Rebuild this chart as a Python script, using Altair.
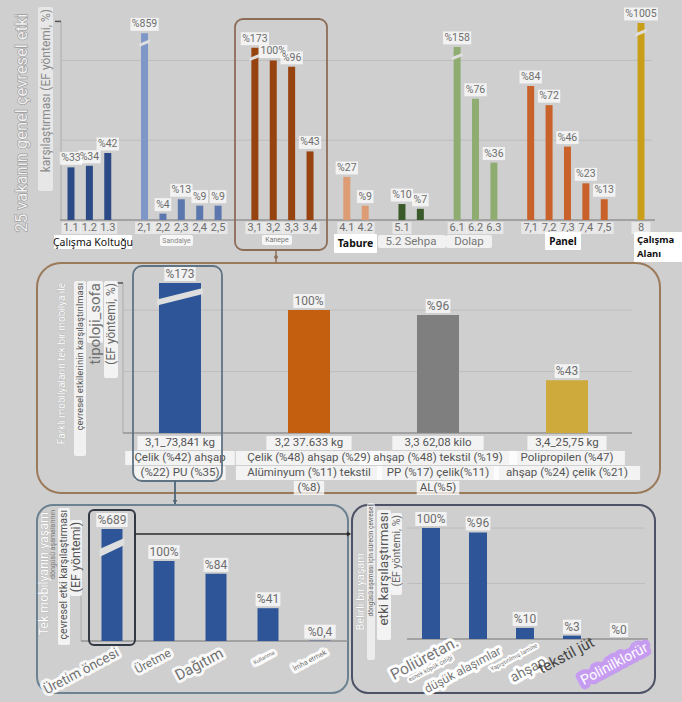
import altair as alt
import pandas as pd

# ======================= DATA =======================
top_ids = ["1.1", "1.2", "1.3", "2,1", "2,2", "2,3", "2,4", "2,5", "3,1", "3,2", "3,3", "3,4",
           "4.1", "4.2", "5.1", "5.2", "6.1", "6.2", "6.3", "7,1", "7,2", "7,3", "7,4", "7,5", "8"]
top_groups = (["Çalışma Koltuğu"] * 3 + ["Sandalye"] * 5 + ["Kanepe"] * 4 + ["Tabure"] * 2
              + ["Sehpa"] * 2 + ["Dolap"] * 3 + ["Panel"] * 5 + ["Çalışma Alanı"])
top_values = [33, 34, 42, 859, 4, 13, 9, 9, 173, 100, 96, 43, 27, 9, 10, 7, 158, 76, 36, 84, 72, 46, 23, 13, 1005]
# drawn height of each bar (broken bars are cut off in the picture)
top_drawn = [33, 34, 42, 117, 4, 13, 9, 9, 108, 100, 96, 43, 27, 9, 10, 7, 108.5, 76, 36, 84, 72, 46, 23, 13, 123.5]
top_value_labels = ["%33", "%34", "%42", "%859", "%4", "%13", "%9", "%9", "%173", "100%", "%96", "%43",
                    "%27", "%9", "%10", "%7", "%158", "%76", "%36", "%84", "%72", "%46", "%23", "%13", "%1005"]
top_title = ["25 vakanın genel çevresel etki", "karşılaştırması (EF yöntemi, %)"]

sofa_ids = ["3,1", "3,2", "3,3", "3,4"]
sofa_values = [173, 100, 96, 43]
sofa_drawn = [122, 100, 96, 43]
sofa_value_labels = ["%173", "100%", "%96", "%43"]
sofa_desc = [
    ["3,1_73,841 kg", "Çelik (%42) ahşap", "(%22) PU (%35)"],
    ["3,2 37.633 kg", "Çelik (%48) ahşap (%29)", "Alüminyum (%11) tekstil", "(%8)"],
    ["3,3 62,08 kilo", "ahşap (%48) tekstil (%19)", "PP (%17) çelik(%11)", "AL(%5)"],
    ["3,4_25,75 kg", "Polipropilen (%47)", "ahşap (%24) çelik (%21)"],
]
mid_title = ["Farklı mobilyaların tek bir mobilya ile", "çevresel etkilerinin karşılaştırılması",
             "tipoloji_sofa", "(EF yöntemi, %)"]

stage_names = ["Üretim öncesi", "Üretme", "Dağıtım", "Kullanma", "İmha etmek"]
stage_values = [689, 100, 84, 41, 0.4]
stage_drawn = [140, 100, 84, 41, 0.4]
stage_value_labels = ["%689", "100%", "%84", "%41", "%0,4"]
bl_title = ["Tek mobilyanın yaşam", "döngüsü aşamalarının", "çevresel etki karşılaştırması", "(EF yöntemi)"]

proc_names = ["Poliüretan esnek köpük", "Çelik düşük alaşımlar", "Yapıştırılmış lamine ahşap",
              "Tekstil jüt", "Polinilklorür"]
proc_values = [100, 96, 10, 3, 0]
proc_value_labels = ["100%", "%96", "%10", "%3", "%0"]
proc_tick_pieces = ["Poliüretan.", "esnek köpük çeliği", "düşük alaşımlar", "Yapıştırılmış lamine",
                    "ahşap", "tekstil jüt", "Polinilklorür"]
br_title = ["Belirli bir yaşam", "döngüsü aşaması için sürecin çevresel", "etki karşılaştırması", "(EF yöntemi, %)"]

# ======================= STYLE =======================
BG = "#cfcfcf"
GAP = "#dedede"
GRID = "#bebebe"
BASE = "#939393"
LAB = "#6e6e6e"
FONT = "Roboto"
OUTLINE = "#9a9a9a"
group_colors = {"Çalışma Koltuğu": "#2c4a86", "Sandalye": "#5b77ad", "Kanepe": "#96430f",
                "Tabure": "#dd9c74", "Sehpa": "#3b5a2b", "Dolap": "#8fad71", "Panel": "#c8622a",
                "Çalışma Alanı": "#c99f19"}
special_colors = {"2,1": "#7e97c7"}
sofa_colors = ["#2d5597", "#c45f10", "#7f7f7f", "#cdaa3b"]
BLUE = "#2d5597"

one = pd.DataFrame({"k": [0]})


def box_path(w, h):
    a, b = w / 20.0, h / 20.0
    return f"M{-a:.2f},{-b:.2f}H{a:.2f}V{b:.2f}H{-a:.2f}Z"


def T(text, x, y, size=11, color="#555555", angle=0, align="center", baseline="middle",
      weight="normal", font=FONT, halo=None, halo_w=5):
    kw = dict(text=text, fontSize=size, align=align, baseline=baseline, font=font, fontWeight=weight)
    if angle:
        kw["angle"] = angle
    out = []
    if halo:
        out.append(alt.Chart(one).mark_text(fill=halo, stroke=halo, strokeWidth=halo_w,
                                            strokeJoin="round", **kw)
                   .encode(x=alt.value(x), y=alt.value(y)))
    out.append(alt.Chart(one).mark_text(fill=color, **kw).encode(x=alt.value(x), y=alt.value(y)))
    return out


def R(x0, y0, x1, y1, fill="white", opacity=0.75, radius=2, stroke=None, sw=1.5):
    if stroke:
        m = alt.Chart(one).mark_rect(cornerRadius=radius, stroke=stroke, strokeWidth=sw, fillOpacity=0)
    else:
        m = alt.Chart(one).mark_rect(cornerRadius=radius, fill=fill, fillOpacity=opacity, strokeWidth=0)
    return m.encode(x=alt.value(x0), x2=alt.value(x1), y=alt.value(y0), y2=alt.value(y1))


def L(x0, y0, x1, y1, color, w=1.0):
    return alt.Chart(one).mark_rule(color=color, strokeWidth=w).encode(
        x=alt.value(x0), x2=alt.value(x1), y=alt.value(y0), y2=alt.value(y1))


def hrules(vals, ys, x0, x1, color, w=1.0):
    d = pd.DataFrame({"v": vals})
    return alt.Chart(d).mark_rule(color=color, strokeWidth=w).encode(
        y=alt.Y("v:Q", scale=ys, axis=None), x=alt.value(x0), x2=alt.value(x1))


def bar_layers(df, xs, ys, bar_size, color, brk_shape, lab_size, lab_off=-9, box_h=13):
    X = alt.X("id:N", scale=xs, axis=None)
    Y = alt.Y("drawn:Q", scale=ys, axis=None)
    out = []
    if isinstance(color, str):
        out.append(alt.Chart(df).mark_bar(size=bar_size, color=color).encode(x=X, y=Y))
    else:
        out.append(alt.Chart(df).mark_bar(size=bar_size).encode(x=X, y=Y, color=color))
    broken = df[df["value"] > df["drawn"]]
    out.append(alt.Chart(broken).mark_point(shape=brk_shape, size=400, filled=True, fill=GAP,
                                            opacity=1, strokeWidth=0)
               .encode(x=X, y=alt.Y("brk:Q", scale=ys, axis=None)))
    d2 = df.copy()
    d2["shp"] = [box_path(lab_size * 0.55 * len(s) + 5, box_h) for s in d2["label"]]
    out.append(alt.Chart(d2).mark_point(filled=True, fill="white", opacity=0.72, size=400,
                                        strokeWidth=0, yOffset=lab_off)
               .encode(x=X, y=Y, shape=alt.Shape("shp:N", scale=None)))
    out.append(alt.Chart(d2).mark_text(fontSize=lab_size, fill=LAB, yOffset=lab_off, font=FONT)
               .encode(x=X, y=Y, text="label:N"))
    return out


layers = []

# ======================= TOP PANEL =======================
top_domain, prev = [], None
for i, g in zip(top_ids, top_groups):
    if prev is not None and g != prev:
        top_domain.append("gap%d" % len(top_domain))
    top_domain.append(i)
    prev = g

top_x = alt.Scale(domain=top_domain, range=[61.8, 650.2], paddingInner=0, paddingOuter=0)
top_y = alt.Scale(domain=[0, 124.5], range=[220, 21.4], nice=False, zero=False)
top_df = pd.DataFrame({"id": top_ids, "group": top_groups, "value": top_values,
                       "drawn": top_drawn, "label": top_value_labels})
top_df["brk"] = top_df["drawn"] - 6
top_cols = [special_colors.get(i, group_colors[g]) for i, g in zip(top_ids, top_groups)]
top_color = alt.Color("id:N", scale=alt.Scale(domain=top_ids, range=top_cols), legend=None)

# titles
layers += T(top_title[0], 22, 123, size=16.5, color="#f1f1f1", angle=270, halo=OUTLINE, halo_w=1.3)
layers.append(R(38, 7, 53, 191, fill="white", opacity=0.5))
layers += T(top_title[1], 45.5, 9, size=12, color="#8a8a8a", angle=270, align="right")
# axis / grid
layers.append(hrules([50, 100], top_y, 62, 652, GRID))
layers.append(L(61, 21.4, 61, 220, "#ababab", 1))
layers.append(L(55, 21.4, 61, 21.4, "#555555", 1.5))
layers.append(hrules([0], top_y, 60, 655, BASE, 1.5))
layers += bar_layers(top_df, top_x, top_y, 7, top_color,
                     "M-0.55,0.4L0.55,-0.05L0.55,-0.38L-0.55,0.07Z", 10.5, lab_off=-9, box_h=13)

# tick labels
tick_df = top_df[top_df["id"] != "5.2"].copy()
TX = alt.X("id:N", scale=top_x, axis=None)
layers.append(alt.Chart(tick_df).mark_point(filled=True, fill="white", opacity=0.5, size=400, strokeWidth=0,
                                            shape=box_path(19, 12)).encode(x=TX, y=alt.value(228)))
layers.append(alt.Chart(tick_df).mark_text(fontSize=11, fill=LAB, font=FONT).encode(
    x=TX, y=alt.value(228), text="id:N"))

# group labels
layers.append(R(54, 235, 132, 249, opacity=1, radius=1))
layers += T("Çalışma Koltuğu", 93, 242.5, size=10.5, color="#111111", font="Noto Sans")
layers.append(R(160, 235, 193, 246, opacity=0.8))
layers += T("Sandalye", 176.5, 240.5, size=7, color="#888888")
layers.append(R(262, 235, 292, 245, opacity=0.8))
layers += T("Kanepe", 277, 240, size=7, color="#777777")
layers.append(R(334, 234, 377, 253, opacity=1, radius=1))
layers += T("Tabure", 355.5, 243.5, size=10.5, color="#111111", weight="bold", font="Noto Sans")
layers.append(R(378, 235, 446, 248, opacity=0.7))
layers += T("5.2 " + "Sehpa", 411, 241.5, size=11.5, color="#777777")
layers.append(R(446, 235, 492, 248, opacity=0.7))
layers += T("Dolap", 469, 241.5, size=11.5, color="#777777")
layers.append(R(545, 232, 581, 250, opacity=1, radius=1))
layers += T("Panel", 563, 241.5, size=10, color="#111111", weight="bold", font="Noto Sans")
layers.append(R(634, 232, 682, 262, opacity=1, radius=1))
layers += T("Çalışma", 637, 240, size=9.5, color="#111111", weight="bold", font="Noto Sans", align="left")
layers += T("Alanı", 637, 254, size=9.5, color="#111111", weight="bold", font="Noto Sans", align="left")

# kanepe frame + connector
layers.append(R(235, 19, 327, 250, stroke="#8c6d58", sw=1.8, radius=8))
layers.append(L(276, 250, 276, 264, "#8c6d58", 1.5))
layers.append(alt.Chart(one).mark_point(shape="circle", size=14, filled=True, fill="#8c6d58", opacity=1)
              .encode(x=alt.value(276), y=alt.value(257)))

# ======================= MIDDLE PANEL =======================
layers.append(R(37, 263, 660, 493, stroke="#9b7a5a", sw=2, radius=24))
mid_x = alt.Scale(domain=sofa_ids, range=[115.5, 631.5], paddingInner=0, paddingOuter=0)
mid_y = alt.Scale(domain=[0, 122], range=[433, 283], nice=False, zero=False)
mid_df = pd.DataFrame({"id": sofa_ids, "value": sofa_values, "drawn": sofa_drawn, "label": sofa_value_labels})
mid_df["brk"] = mid_df["drawn"] - 11
mid_color = alt.Color("id:N", scale=alt.Scale(domain=sofa_ids, range=sofa_colors), legend=None)
layers.append(hrules([50, 100], mid_y, 123, 632, GRID))
layers.append(L(123, 283, 123, 433, "#ababab", 1))
layers.append(L(117, 283, 123, 283, "#555555", 1.5))
layers.append(hrules([0], mid_y, 123, 632, BASE, 1.5))
layers += bar_layers(mid_df, mid_x, mid_y, 42, mid_color,
                     "M-2.3,0.9L2.3,-0.25L2.3,-0.85L-2.3,0.3Z", 12, lab_off=-9, box_h=14)

desc_rows = []
for sid, lines in zip(sofa_ids, sofa_desc):
    for k, s in enumerate(lines):
        desc_rows.append({"id": sid, "text": s, "ly": 443 + 15 * k,
                          "shp": box_path(len(s) * 6.1 + 6, 14)})
desc_df = pd.DataFrame(desc_rows)
MX = alt.X("id:N", scale=mid_x, axis=None)
layers.append(alt.Chart(desc_df).mark_point(filled=True, fill="white", opacity=0.75, size=400, strokeWidth=0)
              .encode(x=MX, y=alt.Y("ly:Q", scale=None), shape=alt.Shape("shp:N", scale=None)))
layers.append(alt.Chart(desc_df).mark_text(fontSize=11.5, fill="#555555", font=FONT)
              .encode(x=MX, y=alt.Y("ly:Q", scale=None), text="text:N"))

layers += T(mid_title[0], 62, 283, size=10, color="#ffffff", angle=270, align="right",
            halo="#adadad", halo_w=0.5)
layers.append(R(74, 281, 86, 456, opacity=0.7))
layers += T(mid_title[1], 80, 283, size=9.5, color="#555555", angle=270, align="right")
layers.append(R(87, 281, 103, 343, opacity=0.75))
layers += T(mid_title[2], 95, 283, size=15, color="#707070", angle=270, align="right")
layers.append(R(104, 281, 118, 378, opacity=0.75))
layers += T(mid_title[3], 111, 283, size=12, color="#666666", angle=270, align="right")

# highlight frame around 3,1 and connector
layers.append(R(133, 266, 222, 481, stroke="#5f7383", sw=1.8, radius=9))
layers.append(L(175, 481, 175, 505, "#4d6577", 1.8))
layers.append(alt.Chart(one).mark_point(shape="triangle-down", size=22, filled=True, fill="#4d6577", opacity=1)
              .encode(x=alt.value(175), y=alt.value(502)))

# ======================= BOTTOM-LEFT PANEL =======================
layers.append(R(37, 505, 348, 693, stroke="#6c8290", sw=2, radius=16))
bl_x = alt.Scale(domain=stage_names, range=[86, 346], paddingInner=0, paddingOuter=0)
bl_y = alt.Scale(domain=[0, 140], range=[641, 529], nice=False, zero=False)
bl_df = pd.DataFrame({"id": stage_names, "value": stage_values, "drawn": stage_drawn,
                      "label": stage_value_labels})
bl_df["brk"] = bl_df["drawn"] - 22.5
layers.append(L(81, 529, 81, 641, "#ababab", 1))
layers.append(L(76, 529, 81, 529, "#555555", 1.5))
layers.append(hrules([0], bl_y, 81, 348, BASE, 1.5))
layers += bar_layers(bl_df, bl_x, bl_y, 21, BLUE,
                     "M-1.25,1.0L1.25,-0.2L1.25,-0.9L-1.25,0.2Z", 12, lab_off=-9, box_h=14)

stage_font = [13.5, 12, 15, 5.5, 7]
st_df = pd.DataFrame({"id": stage_names, "fs": stage_font})
BX = alt.X("id:N", scale=bl_x, axis=None)
layers.append(alt.Chart(st_df).mark_text(angle=332, align="right", baseline="middle", xOffset=6, font=FONT,
                                         fill="white", stroke="white", strokeWidth=6, strokeJoin="round",
                                         strokeOpacity=0.85)
              .encode(x=BX, y=alt.value(652), text="id:N", size=alt.Size("fs:Q", scale=None)))
layers.append(alt.Chart(st_df).mark_text(angle=332, align="right", baseline="middle", xOffset=6, font=FONT,
                                         fill="#707070")
              .encode(x=BX, y=alt.value(652), text="id:N", size=alt.Size("fs:Q", scale=None)))

layers += T(bl_title[0], 44, 512, size=12.5, color="#ffffff", angle=270, align="right",
            halo="#adadad", halo_w=0.5)
layers += T(bl_title[1], 53, 510, size=7, color="#7a7a7a", angle=270, align="right")
layers.append(R(58, 508, 70, 645, opacity=0.75))
layers += T(bl_title[2], 64, 510, size=10.5, color="#555555", angle=270, align="right")
layers.append(R(70, 520, 82, 596, opacity=0.75))
layers += T(bl_title[3], 76, 522, size=12.5, color="#555555", angle=270, align="right")

layers.append(R(89, 510, 135, 645, stroke="#333845", sw=2, radius=5))
layers.append(L(135, 534, 350, 534, "#2b2b2b", 1.6))
layers.append(alt.Chart(one).mark_point(shape="triangle-right", size=24, filled=True, fill="#2b2b2b", opacity=1)
              .encode(x=alt.value(349), y=alt.value(534)))

# ======================= BOTTOM-RIGHT PANEL =======================
layers.append(R(352, 505, 655, 693, stroke="#4d5266", sw=2, radius=16))
br_x = alt.Scale(domain=proc_names, range=[407.5, 642.5], paddingInner=0, paddingOuter=0)
br_y = alt.Scale(domain=[0, 100], range=[639, 528], nice=False, zero=False)
br_df = pd.DataFrame({"id": proc_names, "value": proc_values, "drawn": proc_values, "label": proc_value_labels})
br_df["brk"] = br_df["drawn"]
layers.append(hrules([50, 100], br_y, 407, 645, GRID))
layers.append(hrules([0], br_y, 407, 648, BASE, 1.5))
layers += bar_layers(br_df, br_x, br_y, 18, BLUE, "M0,0Z", 12, lab_off=-9, box_h=14)

layers += T(br_title[0], 361, 553, size=11, color="#ffffff", angle=270, align="right",
            halo="#adadad", halo_w=0.5)
layers.append(R(367, 503, 375, 660, opacity=0.6))
layers += T(br_title[1], 371, 505, size=6.5, color="#666666", angle=270, align="right")
layers.append(R(377, 510, 391, 640, opacity=0.75))
layers += T(br_title[2], 384, 512, size=13.5, color="#555555", angle=270, align="right")
layers.append(R(391, 513, 402, 595, opacity=0.75))
layers += T(br_title[3], 396.5, 515, size=10.5, color="#666666", angle=270, align="right")

p = proc_tick_pieces
layers += T(p[0], 457, 641, size=15.5, color="#777777", angle=332, align="right", halo="white", halo_w=6)
layers += T(p[1], 452, 657, size=6, color="#777777", angle=332, align="right", halo="white", halo_w=4)
layers += T(p[2], 500, 650, size=12, color="#777777", angle=332, align="right", halo="white", halo_w=6)
layers += T(p[3], 537, 645, size=6, color="#777777", angle=332, align="right", halo="white", halo_w=4)
layers += T(p[4], 545, 661, size=14, color="#777777", angle=332, align="right", halo="white", halo_w=6)
layers += T(p[5], 593, 641, size=15, color="#444444", angle=332, align="right")
layers += T(p[6], 647, 647, size=14, color="#ffffff", angle=332, align="right", halo="#c69cf1", halo_w=9)

chart = (alt.layer(*layers)
         .resolve_scale(x="independent", y="independent", color="independent",
                        shape="independent", size="independent")
         .properties(width=682, height=702, padding=0, autosize=alt.AutoSizeParams(type="none"),
                     background=BG)
         .configure_view(stroke=None, fill=BG)
         .configure_text(font=FONT))

chart.save("out.html", embed_options={"renderer": "svg", "actions": False})
